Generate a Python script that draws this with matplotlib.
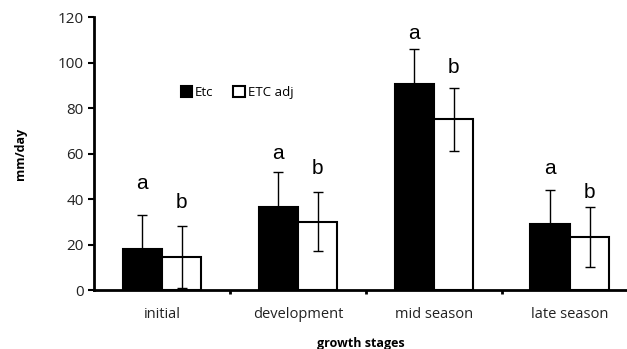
import numpy as np
import matplotlib.pyplot as plt

stages = ['initial', 'development', 'mid season', 'late season']
etc = [18, 36.5, 90.5, 29]
etc_err = [15, 15.5, 15.5, 15]
etc_adj = [14.5, 30, 75, 23.5]
etc_adj_err = [13.5, 13, 13.7, 13.2]
# significance letters and the height they sit at
letters_etc = ['a', 'a', 'a', 'a']
letters_adj = ['b', 'b', 'b', 'b']
letter_y_etc = [47, 60, 113, 53.5]
letter_y_adj = [38.5, 53.5, 98, 43]

plt.rcParams['font.family'] = ['Open Sans', 'DejaVu Sans']

fig = plt.figure(figsize=(6.27, 3.49), dpi=100)
ax = fig.add_axes([0.15, 0.169, 0.85, 0.782])

x = np.arange(len(stages))
w = 0.29
ax.bar(x - w/2, etc, w, color='black', edgecolor='black', linewidth=1.5, label='Etc', zorder=2)
ax.bar(x + w/2, etc_adj, w, color='white', edgecolor='black', linewidth=1.5, label='ETC adj', zorder=2)
ax.errorbar(x - w/2, etc, yerr=etc_err, fmt='none', ecolor='black', elinewidth=1, capsize=3.5, zorder=1)
ax.errorbar(x + w/2, etc_adj, yerr=etc_adj_err, fmt='none', ecolor='black', elinewidth=1, capsize=3.5, zorder=3)

for i in range(len(stages)):
    ax.text(x[i] - w/2, letter_y_etc[i], letters_etc[i], ha='center', va='center',
            fontsize=15, family='Liberation Sans')
    ax.text(x[i] + w/2, letter_y_adj[i], letters_adj[i], ha='center', va='center',
            fontsize=15, family='Liberation Sans')

ax.set_xlim(-0.5, 3.42)
ax.set_ylim(0, 120)
ax.set_yticks(np.arange(0, 121, 20))
ax.set_xticks(x)
ax.set_xticklabels(stages, fontsize=10.5, color='#222222')
ax.set_xticks(np.arange(0.5, 3.5, 1), minor=True)
ax.tick_params(axis='x', which='major', length=0, pad=12)
ax.tick_params(axis='x', which='minor', length=3, width=2, direction='out')
ax.tick_params(axis='y', length=4, width=1.5, labelsize=11, labelcolor='#222222', color='black')
for s in ['top', 'right']:
    ax.spines[s].set_visible(False)
ax.spines['left'].set_linewidth(2)
ax.spines['bottom'].set_linewidth(2)

ax.set_ylabel('mm/day', fontsize=9, fontweight='bold', labelpad=22)
ax.set_xlabel('growth stages', fontsize=9, fontweight='bold', labelpad=11)

ax.legend(loc='upper left', bbox_to_anchor=(0.14, 0.79), ncol=2, frameon=False,
          fontsize=9.5, handlelength=0.9, handleheight=0.9, handletextpad=0.2, columnspacing=1.5)

plt.savefig('out.png')
